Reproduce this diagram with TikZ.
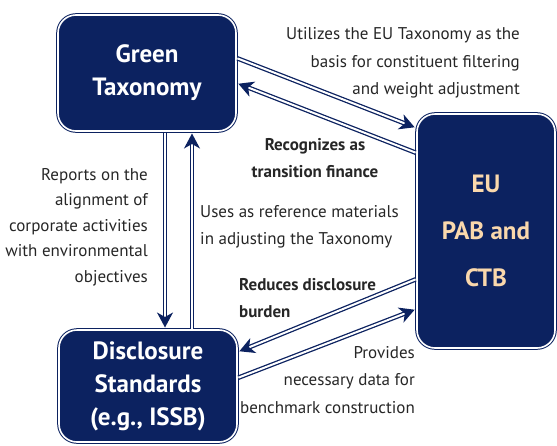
\documentclass[tikz,border=0pt]{standalone}
\usepackage{fontspec}
\setmainfont{PT Sans}
\usetikzlibrary{arrows.meta}
\definecolor{navy}{RGB}{12,34,96}
\definecolor{peach}{RGB}{250,216,172}

\begin{document}
\begin{tikzpicture}[x=1pt, y=-1pt, line join=round,
  >={Stealth[length=15pt,width=16pt,inset=4.5pt]},
  box/.style={draw=navy, double=white, double distance=1.6pt, line width=1pt,
    fill=navy, rounded corners=18pt, align=center, text=white, inner sep=0pt,
    font=\bfseries\fontsize{25}{33}\selectfont},
  link/.style={draw=navy, double=white, double distance=2pt, line width=1.3pt,
    ->, shorten >=2pt, shorten <=1pt},
  note/.style={inner sep=0pt, text=black!85, font=\fontsize{17}{27.5}\selectfont},
  bnote/.style={note, font=\bfseries\fontsize{17}{27.5}\selectfont}]
\useasboundingbox (0,0) rectangle (557,445);

% the three blocks
\node[box, minimum width=178, minimum height=116] (green) at (147,73) {Green\\Taxonomy};
\node[box, minimum width=138, minimum height=234, text=peach,
  font=\bfseries\fontsize{25}{47}\selectfont] (eu) at (486,231) {EU\\PAB and\\CTB};
\node[box, minimum width=178, minimum height=112] (disc) at (148,386)
  {Disclosure\\Standards\\(e.g., ISSB)};

% links between them
\draw[link] ([yshift=15]green.east) -- ([yshift=103]eu.west);
\draw[link] ([yshift=78]eu.west) -- ([yshift=-10]green.east);
\draw[link] ([xshift=18]green.south) -- ([xshift=17]disc.north);
\draw[link] ([xshift=44]disc.north) -- ([xshift=45]green.south);
\draw[link] ([yshift=-48]eu.west) -- ([yshift=34]disc.east);
\draw[link] ([yshift=8]disc.east) -- ([yshift=-78]eu.west);

% labels
\node[note, align=right, anchor=east] (utl) at (520,63)
  {Utilizes the EU Taxonomy as the\\basis for constituent filtering\\and weight adjustment};
\node[bnote, align=center] (rec) at (315,158) {Recognizes as\\transition finance};
\node[note, align=right, anchor=east, font=\fontsize{17}{25.5}\selectfont] (rep) at (148,227)
  {Reports on the\\alignment of\\corporate activities\\with environmental\\objectives};
\node[note, align=left, anchor=west] (use) at (200,227)
  {Uses as reference materials\\in adjusting the Taxonomy};
\node[bnote, align=left, anchor=west] (red) at (239,298) {Reduces disclosure\\burden};
\node[note, align=right, anchor=east] (pro) at (415,380)
  {Provides\\necessary data for\\benchmark construction};
\end{tikzpicture}
\end{document}
